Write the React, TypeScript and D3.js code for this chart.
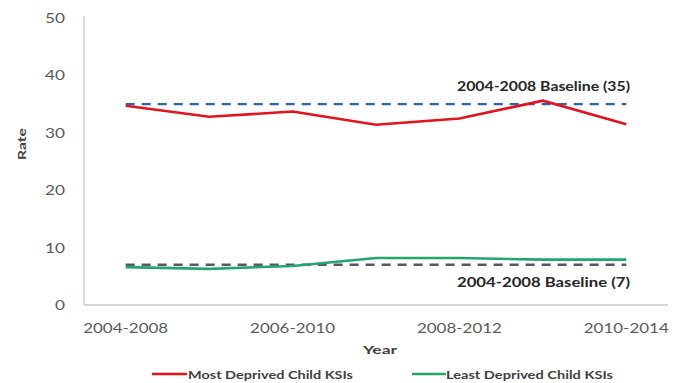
import React from "react";
import * as d3 from "d3";

// Rolling five-year periods
const periods = [
  "2004-2008",
  "2005-2009",
  "2006-2010",
  "2007-2011",
  "2008-2012",
  "2009-2013",
  "2010-2014",
];
const tickPeriods = ["2004-2008", "2006-2010", "2008-2012", "2010-2014"];
const yTicks = [0, 10, 20, 30, 40, 50];

// Child KSI rates per period
const mostDeprived = [34.7, 32.8, 33.7, 31.4, 32.5, 35.6, 31.5];
const leastDeprived = [6.6, 6.3, 6.8, 8.2, 8.2, 7.9, 7.9];

// 2004-2008 baseline rates
const mostBaseline = 35;
const leastBaseline = 7;

const W = 685;
const H = 383;
const left = 84;
const right = 668;
const top = 18;
const bottom = 305;

const FONT = "Lato, 'Open Sans', 'DejaVu Sans', sans-serif";

export default function App() {
  const x = d3.scaleBand<string>().domain(periods).range([left, right]).padding(0);
  const cx = (p: string) => (x(p) as number) + x.bandwidth() / 2;
  const y = d3.scaleLinear().domain([0, 50]).range([bottom, top]);

  const line = d3
    .line<number>()
    .x((_, i) => cx(periods[i]))
    .y((d) => y(d));

  const x0 = cx(periods[0]);
  const x1 = cx(periods[periods.length - 1]);

  return (
    <svg
      width={W}
      height={H}
      style={{ position: "absolute", left: 0, top: 0, background: "#fff" }}
      fontFamily={FONT}
    >
      {/* axes */}
      <line x1={left} x2={left} y1={top - 2} y2={bottom} stroke="#c8c8c8" strokeWidth={1.3} />
      <line x1={left} x2={right} y1={bottom} y2={bottom} stroke="#c8c8c8" strokeWidth={1.3} />

      {yTicks.map((t) => (
        <text
          key={t}
          x={65}
          y={y(t)}
          dy="0.36em"
          textAnchor="end"
          fontSize={14}
          fill="#595959"
          textLength={t === 0 ? 10 : 20}
          lengthAdjust="spacingAndGlyphs"
        >
          {t}
        </text>
      ))}

      {tickPeriods.map((p) => (
        <text
          key={p}
          x={cx(p) - 42.5}
          y={bottom + 28}
          fontSize={14}
          fill="#595959"
          textLength={85}
          lengthAdjust="spacingAndGlyphs"
        >
          {p}
        </text>
      ))}

      <text
        transform={`translate(${26},${144}) rotate(-90)`}
        x={-16}
        fontSize={12}
        fontWeight="bold"
        fill="#404040"
        textLength={32}
        lengthAdjust="spacingAndGlyphs"
      >
        Rate
      </text>
      <text
        x={363}
        y={354}
        fontSize={12}
        fontWeight="bold"
        fill="#404040"
        textLength={34}
        lengthAdjust="spacingAndGlyphs"
      >
        Year
      </text>

      {/* baselines */}
      <line
        x1={x0}
        x2={x1}
        y1={y(mostBaseline)}
        y2={y(mostBaseline)}
        stroke="#2f62b0"
        strokeWidth={2.4}
        strokeDasharray="9 7"
      />
      <line
        x1={x0}
        x2={x1}
        y1={y(leastBaseline)}
        y2={y(leastBaseline)}
        stroke="#5a5568"
        strokeWidth={2.4}
        strokeDasharray="9 7"
      />

      {/* series */}
      <path d={line(mostDeprived) || ""} fill="none" stroke="#e3121f" strokeWidth={2.6} />
      <path d={line(leastDeprived) || ""} fill="none" stroke="#22a66e" strokeWidth={2.6} />

      <text
        x={457}
        y={91}
        fontSize={12.5}
        fontWeight="bold"
        fill="#262626"
        textLength={173}
        lengthAdjust="spacingAndGlyphs"
      >
        2004-2008 Baseline ({mostBaseline})
      </text>
      <text
        x={457}
        y={287}
        fontSize={12.5}
        fontWeight="bold"
        fill="#262626"
        textLength={173}
        lengthAdjust="spacingAndGlyphs"
      >
        2004-2008 Baseline ({leastBaseline})
      </text>

      {/* legend */}
      <line x1={152} x2={187} y1={374} y2={374} stroke="#e3121f" strokeWidth={2.6} />
      <text
        x={188}
        y={379}
        fontSize={10.5}
        fontWeight="bold"
        fill="#404040"
        textLength={165}
        lengthAdjust="spacingAndGlyphs"
      >
        Most Deprived Child KSIs
      </text>
      <line x1={412} x2={446} y1={374} y2={374} stroke="#22a66e" strokeWidth={2.6} />
      <text
        x={446}
        y={379}
        fontSize={10.5}
        fontWeight="bold"
        fill="#404040"
        textLength={167}
        lengthAdjust="spacingAndGlyphs"
      >
        Least Deprived Child KSIs
      </text>
    </svg>
  );
}
